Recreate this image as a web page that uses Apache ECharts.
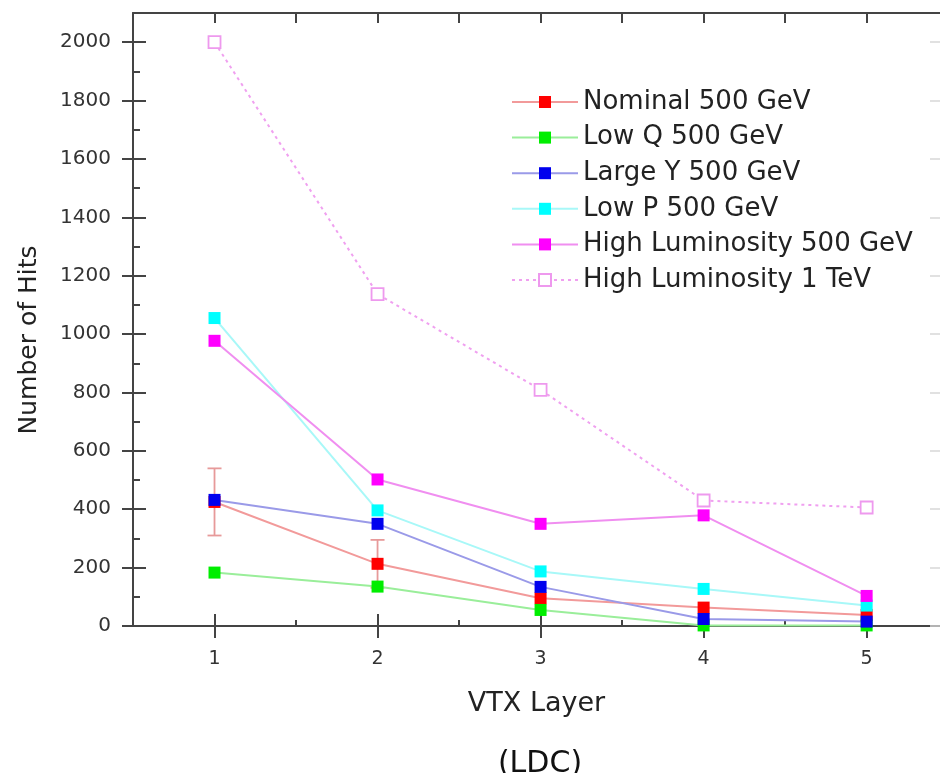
<!DOCTYPE html>
<html>
<head>
<meta charset="utf-8">
<script src="https://cdn.jsdelivr.net/npm/echarts@6/dist/echarts.min.js"></script>
<style>
html,body{margin:0;padding:0;background:#fff;}
#c{width:940px;height:773px;}
</style>
</head>
<body>
<div id="c"></div>
<script>
var layers = [1, 2, 3, 4, 5];
var nominal = [425, 213, 95, 63, 38];
var nominalErr = [115, 82, 0, 0, 0];
var lowQ = [183, 135, 55, 2, 2];
var largeY = [432, 350, 134, 24, 15];
var lowP = [1055, 396, 187, 127, 70];
var highLumi500 = [977, 502, 350, 379, 103];
var highLumi1TeV = [2000, 1137, 809, 430, 406];
var yTickLabels = [0, 200, 400, 600, 800, 1000, 1200, 1400, 1600, 1800, 2000];
var yMinorTicks = [100, 300, 500, 700, 900, 1100, 1300, 1500, 1700, 1900];
var xMinorTicks = [1.5, 2.5, 3.5, 4.5];
var xTopTicks = [1, 1.5, 2, 2.5, 3, 3.5, 4, 4.5, 5];
var seriesNames = ['Nominal 500 GeV', 'Low Q 500 GeV', 'Large Y 500 GeV', 'Low P 500 GeV', 'High Luminosity 500 GeV', 'High Luminosity 1 TeV'];

function pairs(vals) { return layers.map(function (x, i) { return [x, vals[i]]; }); }

var FONT = 'DejaVu Sans';
var AX = '#444';
var chart = echarts.init(document.getElementById('c'), null, {renderer: 'canvas'});

function lineSeries(name, vals, lineColor, markColor, opts) {
  opts = opts || {};
  return {
    name: name, type: 'line', data: pairs(vals),
    xAxisIndex: 0, yAxisIndex: 0,
    symbol: 'rect', symbolSize: 12,
    lineStyle: {color: lineColor, width: 2, type: opts.dash || 'solid'},
    itemStyle: {color: opts.fill || markColor, borderColor: markColor, borderWidth: opts.border || 0},
    emphasis: {disabled: true},
    animation: false,
    z: opts.z || 3
  };
}

var errData = layers.map(function (x, i) { return [x, nominal[i] - nominalErr[i], nominal[i] + nominalErr[i]]; })
  .filter(function (d) { return d[2] > d[1]; });

function plain(v) { return String(v); }

var option = {
  animation: false,
  backgroundColor: '#fff',
  graphic: [
    {
      type: 'text', x: 29, y: 340, rotation: Math.PI / 2,
      style: {text: 'Number of Hits', fontFamily: FONT, fontSize: 25, fill: '#222', align: 'center', verticalAlign: 'middle'}
    },
    {
      type: 'text', x: 540, y: 764,
      style: {text: '(LDC)', fontFamily: FONT, fontSize: 30, fill: '#111', align: 'center', verticalAlign: 'middle'}
    }
  ],
  grid: {left: 133, right: -6, top: 13, bottom: 147, show: false},
  legend: {
    left: 506, top: 82, orient: 'vertical',
    itemWidth: 66, itemHeight: 15, itemGap: 5.6,
    data: seriesNames,
    textStyle: {fontFamily: FONT, fontSize: 26, color: '#222', lineHeight: 30, padding: [0, 0, 0, 0]}
  },
  xAxis: [
    {
      type: 'value', position: 'bottom', min: 0.5, max: 5.45,
      name: 'VTX Layer', nameLocation: 'middle', nameGap: 64,
      nameTextStyle: {fontFamily: FONT, fontSize: 27, color: '#222'},
      axisLine: {show: true, onZero: false, lineStyle: {color: AX, width: 2}},
      axisTick: {show: true, inside: false, length: 12, customValues: layers, lineStyle: {color: AX, width: 2}},
      axisLabel: {show: true, customValues: layers, margin: 24, fontFamily: FONT, fontSize: 19, color: '#333', formatter: plain},
      splitLine: {show: false}
    },
    {
      type: 'value', position: 'bottom', min: 0.5, max: 5.45,
      axisLine: {show: false, onZero: false},
      axisTick: {show: true, inside: true, length: 12, customValues: layers, lineStyle: {color: AX, width: 2}},
      axisLabel: {show: false}, splitLine: {show: false}
    },
    {
      type: 'value', position: 'bottom', min: 0.5, max: 5.45,
      axisLine: {show: false, onZero: false},
      axisTick: {show: true, inside: true, length: 6, customValues: xMinorTicks, lineStyle: {color: AX, width: 2}},
      axisLabel: {show: false}, splitLine: {show: false}
    },
    {
      type: 'value', position: 'top', min: 0.5, max: 5.45,
      axisLine: {show: true, onZero: false, lineStyle: {color: AX, width: 2}},
      axisTick: {show: true, inside: true, length: 10, customValues: xTopTicks, lineStyle: {color: AX, width: 2}},
      axisLabel: {show: false}, splitLine: {show: false}
    }
  ],
  yAxis: [
    {
      type: 'value', position: 'left', min: 0, max: 2100,
      axisLine: {show: true, onZero: false, lineStyle: {color: AX, width: 2}},
      axisTick: {show: true, inside: false, length: 11, customValues: yTickLabels, lineStyle: {color: AX, width: 2}},
      axisLabel: {show: true, customValues: yTickLabels, margin: 22, fontFamily: FONT, fontSize: 20, color: '#333', formatter: plain},
      splitLine: {show: false}
    },
    {
      type: 'value', position: 'left', min: 0, max: 2100,
      axisLine: {show: false, onZero: false},
      axisTick: {show: true, inside: true, length: 13, customValues: yTickLabels, lineStyle: {color: AX, width: 2}},
      axisLabel: {show: false}, splitLine: {show: false}
    },
    {
      type: 'value', position: 'left', min: 0, max: 2100,
      axisLine: {show: false, onZero: false},
      axisTick: {show: true, inside: true, length: 7, customValues: yMinorTicks, lineStyle: {color: AX, width: 2}},
      axisLabel: {show: false}, splitLine: {show: false}
    },
    {
      type: 'value', position: 'right', min: 0, max: 2100,
      axisLine: {show: false, onZero: false},
      axisTick: {show: true, inside: true, length: 10, customValues: yTickLabels, lineStyle: {color: '#d8d8d8', width: 1.5}},
      axisLabel: {show: false}, splitLine: {show: false}
    }
  ],
  series: [
    {
      type: 'custom', name: 'nominalErr', xAxisIndex: 0, yAxisIndex: 0, z: 2,
      data: errData, silent: true,
      renderItem: function (params, api) {
        var x = api.value(0);
        var lo = api.coord([x, api.value(1)]);
        var hi = api.coord([x, api.value(2)]);
        var w = 7;
        var st = {stroke: '#e79a9a', lineWidth: 1.8};
        return {type: 'group', children: [
          {type: 'line', shape: {x1: lo[0], y1: lo[1], x2: hi[0], y2: hi[1]}, style: st},
          {type: 'line', shape: {x1: lo[0] - w, y1: lo[1], x2: lo[0] + w, y2: lo[1]}, style: st},
          {type: 'line', shape: {x1: hi[0] - w, y1: hi[1], x2: hi[0] + w, y2: hi[1]}, style: st}
        ]};
      }
    },
    lineSeries(seriesNames[0], nominal, '#f29a9a', '#ff0000'),
    lineSeries(seriesNames[1], lowQ, '#9aee9a', '#00ee00'),
    lineSeries(seriesNames[2], largeY, '#9a9ae8', '#0000ee'),
    lineSeries(seriesNames[3], lowP, '#a8f8f8', '#00ffff'),
    lineSeries(seriesNames[4], highLumi500, '#f08ef0', '#ff00ff'),
    lineSeries(seriesNames[5], highLumi1TeV, '#f0a0f0', '#ee99ee', {dash: [3, 4], fill: '#ffffff', border: 1.8})
  ]
};
chart.setOption(option);
</script>
</body>
</html>
